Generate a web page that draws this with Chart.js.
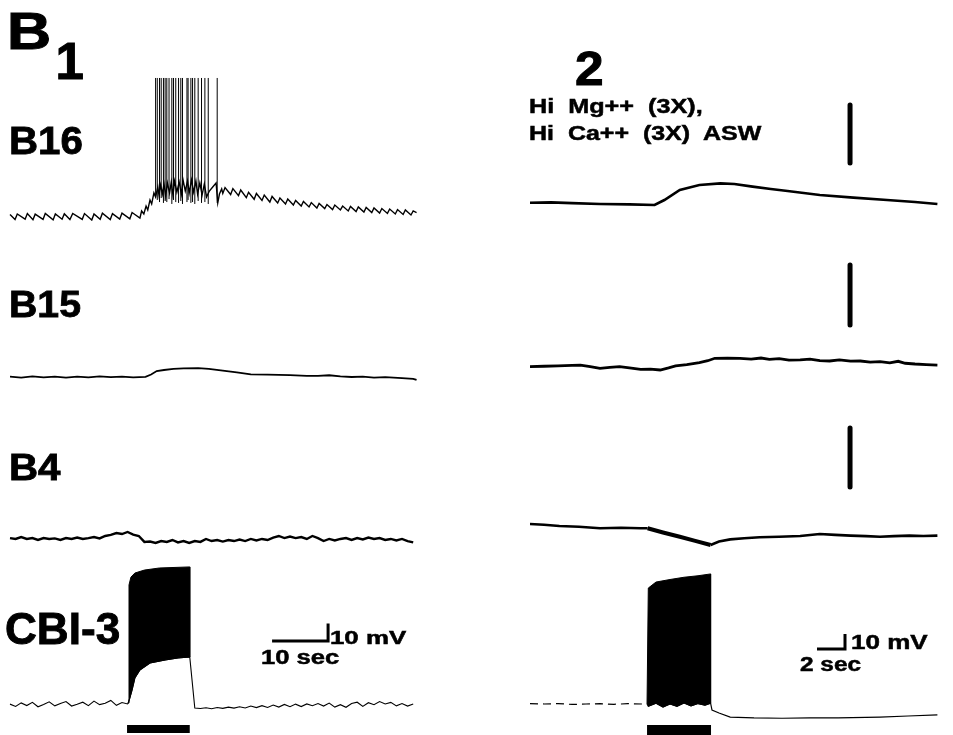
<!DOCTYPE html>
<html>
<head>
<meta charset="utf-8">
<script src="https://cdn.jsdelivr.net/npm/chart.js@4.4.1/dist/chart.umd.min.js"></script>
<style>
  html, body { margin: 0; padding: 0; background: #fff; }
  #page { position: relative; width: 953px; height: 735px; overflow: hidden; }
  canvas { position: absolute; top: 0; }
  .lbl {
    position: absolute;
    font-family: "Liberation Sans", Arial, sans-serif;
    font-weight: bold;
    line-height: 1;
    white-space: pre;
    color: #000;
    transform-origin: left top;
  }
</style>
</head>
<body>
<div id="page">
  <canvas id="left-chart" width="476" height="735" style="left:0;width:476px;height:735px"></canvas>
  <canvas id="right-chart" width="477" height="735" style="left:476px;width:477px;height:735px"></canvas>
</div>
<script>
// ---- data (time in sec, membrane potential in mV relative to each trace's rest) ----

// B1, B16: background trace and the burst of spikes
const b16LeftTime = [0, 0.9, 1.3, 2.7, 3.1, 4.1, 4.5, 5.9, 6.3, 7.7, 8.1, 9.3, 9.7, 10.7, 11.2, 12.9, 13.3, 14.6, 15.0, 16.1, 16.5, 17.9, 18.3, 19.6, 20.0, 21.4, 21.8, 23.2,
  23.5, 23.9, 24.3, 24.6, 25.0, 25.3, 25.7, 26.0,
  26.4, 26.6, 26.9, 27.2, 27.5, 27.8, 28.1, 28.5, 28.8, 29.1, 29.4, 29.8, 30.2, 30.6, 30.9, 31.3, 31.7, 32.0, 32.4, 32.8, 33.2, 33.5, 33.9, 34.3, 34.7, 35.1, 35.6, 36.2, 36.8, 37.1, 37.4, 37.8,
  38.0, 38.4, 39.4, 39.8, 40.8, 41.2, 42.2, 42.6, 43.6, 44.0, 45.0, 45.4, 46.4, 46.8, 47.8, 48.2, 49.2, 49.6, 50.6, 51.0, 52.0, 52.4, 53.4, 53.8, 54.8, 55.2, 56.2, 56.6, 57.6, 58.0,
  59.0, 59.4, 60.4, 60.8, 61.8, 62.2, 63.2, 63.6, 64.6, 65.0, 66.0, 66.4, 67.4, 67.8, 68.8, 69.2, 70.2, 70.6, 71.6, 72.0, 72.6];
const b16LeftMv = [0.3, -2.6, 0.6, -2.4, 0.8, -2.7, 0.5, -2.5, 0.9, -2.8, 0.6, -2.4, 0.7, -2.6, 0.9, -2.5, 0.8, -2.9, 0.6, -2.4, 1.0, -2.6, 0.8, -2.3, 1.1, -2.2, 1.4, -1.8,
  2.3, 0.6, 5.1, 2.9, 8.6, 6.3, 12.6, 10.3,
  16.0, 11.4, 17.1, 12.0, 17.7, 10.9, 18.3, 12.6, 18.9, 11.4, 19.4, 13.1, 18.9, 12.0, 20.0, 13.7, 19.4, 12.6, 20.0, 13.1, 19.4, 12.0, 18.3, 11.4, 17.7, 10.3, 13.7, 16.0, 18.3, 6.9, 12.0, 14.9,
  12.3, 15.7, 11.7, 15.1, 11.1, 14.3, 9.9, 13.0, 9.0, 12.3, 8.3, 11.4, 7.4, 10.6, 6.9, 9.7, 6.3, 9.1, 5.7, 8.3, 5.1, 7.7, 4.6, 7.1, 4.0, 6.6, 3.7, 6.0, 3.1, 5.7,
  2.9, 5.1, 2.3, 4.9, 2.0, 4.6, 1.7, 4.3, 1.4, 4.0, 1.1, 3.7, 0.9, 3.4, 0.6, 3.1, 0.3, 2.9, 0.0, 2.3, 1.4];
const b16SpikeTime = [26.0, 26.3, 26.7, 27.0, 27.4, 27.7, 28.0, 28.4, 28.9, 29.2, 29.6, 30.1, 30.5, 30.8, 31.6, 31.8, 32.3, 32.6, 33.0, 33.6, 34.2, 34.8, 35.4, 37.0];
const b16SpikeBase = [10.9, 8.6, 7.4, 9.7, 6.9, 8.0, 7.4, 9.1, 6.3, 8.6, 7.4, 6.9, 8.0, 6.3, 7.4, 8.6, 6.9, 7.4, 6.3, 8.0, 6.9, 7.4, 6.3, 6.9];
const b16SpikePeak = [78.3, 78.3, 78.3, 78.3, 78.3, 78.3, 78.3, 78.3, 78.3, 78.3, 78.3, 78.3, 78.3, 78.3, 78.3, 78.3, 78.3, 78.3, 78.3, 78.3, 78.3, 78.3, 78.3, 78.3];

// B1, B15
const b15LeftTime = [0, 2, 4, 6, 8, 10, 12, 14, 16, 18, 20, 22, 24.2, 25.2, 26.2, 27.5, 29.2, 31, 33.6, 35.5, 38, 40.5, 43, 46, 50, 53, 55, 57, 59, 61, 63, 65, 67, 70, 72, 72.6];
const b15LeftMv = [0.2, -0.3, 0.3, -0.2, 0.2, -0.3, 0.2, -0.2, 0.3, -0.1, 0.2, -0.2, 0.1, 1.4, 3.4, 4.0, 4.6, 4.9, 5.1, 4.6, 3.7, 2.6, 1.5, 1.3, 1.1, 0.7, 0.6, 1.0, 0.4, 0.0, 0.2, -0.3, -0.1, -0.6, -1.1, -1.7];

// B1, B4 (one sample per second from t = 0)
const b4LeftMv = [1.1, 0.6, 1.7, 0.6, 1.1, 0.0, 1.1, 0.6, 0.9, 0.0, 1.1, 0.6, 1.4, 0.6, 1.1, 1.7, 0.9, 2.3, 2.9, 4.0, 3.4, 4.6, 3.1, 2.3,
  -1.1, -0.9, -1.7, -0.6, -1.1, 0.0, -1.4, -0.6, -1.7, -0.6, -1.1, 0.6, -0.6, 0.0, -0.9, 0.0, -0.6, 0.3, -0.6, 0.6, -0.3, 0.6, 0.0,
  1.4, 2.3, 1.1, 2.0, 1.1, 1.7, 0.6, 2.3, 1.1, -0.6, 0.6, -0.3, 0.6, 1.1, 0.0, 1.1, 0.3, 1.4, 0.6, 1.1, 0.0, 0.6, -0.3, 0.6, -0.6, -1.4];

// B1, CBI-3: baseline before (t = 0..21) and after (t = 33..72) the stimulus, one sample per second
const cbiLeftPreMv = [0.5, -0.8, 1.2, -0.3, 1.5, -1.0, 0.3, 1.8, -0.5, 0.9, 2.0, -0.6, 0.4, 1.6, -0.4, 2.2, 0.2, 1.0, 2.6, -0.2, 1.4, 0.6];
const cbiLeftPostMv = [-1.7, -2.0, -1.6, -2.1, -1.4, -1.9, -1.2, -1.8, -1.0, -1.7, -0.6, -1.5, -0.4, -1.4, 0.0, -1.2, 0.3, -1.0, 0.5, -0.9,
  0.6, -0.4, 0.8, -0.6, 1.1, -1.2, 0.2, -1.3, 0.9, 1.6, -0.8, 1.3, 0.2, 2.0, 0.6, 1.5, -0.5, 0.8, -0.6, 0.6];
// envelope of the spike train during the stimulus
const cbiLeftLowerTime = [21.1, 21.4, 21.8, 22.3, 23.2, 25.0, 27.7, 30.0, 32.1];
const cbiLeftLowerMv = [1.1, 4.0, 8.6, 15.4, 20.0, 24.0, 25.7, 26.9, 27.4];
const cbiLeftUpperTime = [21.1, 21.25, 21.6, 22.3, 24.0, 26.7, 32.1];
const cbiLeftUpperMv = [1.1, 68.6, 73.1, 75.4, 77.1, 78.3, 78.9];
const stimLeft = [20.9, 32.1];

// B2 (Hi Mg++, Hi Ca++ ASW)
const b16RightTime = [0, 1.5, 3, 5, 7.1, 8.9, 9.6, 10.7, 12.1, 13.6, 14.6, 15.9, 17.2, 18.4, 20.7, 23.1, 25.5, 27.5, 29.1];
const b16RightMv = [0.2, 0.4, -0.1, -0.7, -0.9, -1.3, 2.0, 8.7, 12.0, 13.1, 12.7, 10.9, 9.3, 8.0, 5.3, 3.6, 2.0, 0.7, -0.7];

const b15RightTime = [0, 1, 2, 3, 3.6, 4.3, 5, 5.7, 6.4, 7.1, 7.9, 8.6, 9.3, 9.9, 10.4, 11.2, 12.1, 12.7, 13.2, 14.1, 15.0, 15.8, 16.5, 17.1, 17.8,
  18.5, 19.3, 20.0, 20.7, 21.4, 22.1, 22.9, 23.6, 24.3, 25.0, 25.7, 26.3, 26.8, 27.5, 28.3, 29.1];
const b15RightMv = [0.2, 0.5, 0.7, 1.1, 1.3, 0.2, -0.9, -0.2, 0.2, -0.6, -1.6, -1.4, -2.0, -0.6, 0.7, 1.6, 2.9, 4.2, 5.8, 5.9, 5.8, 5.2, 6.0, 5.1, 5.6,
  4.6, 4.7, 5.3, 4.2, 4.0, 4.8, 3.9, 4.0, 3.3, 3.6, 2.7, 3.8, 2.5, 2.0, 1.6, 1.3];

const b4RightTime = [0, 1, 2.1, 3.5, 5, 6.5, 7.9, 8.4, 9.5, 10.7, 11.8, 12.9, 13.5, 14.3, 15.3, 16.4, 17.8, 19.3, 20.7, 21.8, 22.9, 24, 25, 26, 27.1, 28.1, 29.1];
const b4RightMv = [2.7, 2.2, 1.3, 0.8, -0.2, 0.2, -0.2, -0.2, -3.0, -5.8, -8.6, -11.3, -9.0, -7.6, -6.8, -6.2, -5.8, -5.3, -4.0, -4.6, -5.1, -5.4, -5.8, -5.4, -5.1, -5.3, -5.1];

const cbiRightPreTime = [0, 1, 2, 3, 4, 5, 6, 7, 8, 8.36];
const cbiRightPreMv = [0.3, 0.0, 0.3, -0.3, 0.0, 0.2, -0.2, 0.2, 0.0, 0.0];
const cbiRightLowerTime = [8.45, 9.0, 9.5, 10.0, 10.5, 11.0, 11.5, 12.0, 12.5, 12.9];
const cbiRightLowerMv = [-1.5, 0.5, -2.0, 0.0, -1.5, 0.7, -1.3, 0.3, -0.8, 0.5];
const cbiRightUpperTime = [8.36, 8.45, 9.0, 10.0, 11.0, 12.0, 12.9];
const cbiRightUpperMv = [0.0, 77.3, 81.3, 83.0, 84.5, 85.5, 86.7];
const cbiRightPostTime = [13.0, 13.5, 14.3, 16.0, 18.0, 20.0, 22.0, 25.0, 27.0, 29.1];
const cbiRightPostMv = [-4.0, -6.0, -8.7, -9.3, -9.5, -9.3, -9.3, -8.7, -8.0, -7.3];
const stimRight = [8.36, 12.93];

// vertical marks drawn over the B16, B15 and B4 rows of panel 2
const markRightTime = 22.86;
const markRightLowMv = [26.7, 28.0, 27.3];
const markRightHighMv = [65.3, 68.0, 66.7];

// ---- layout ----
const H = 735;
const left = { t0px: 10, pxPerSec: 5.6, pxPerMv: 1.75, baselines: [215, 377, 540, 705], width: 476, stimMv: -13.7, stimWidth: 8, bar: { t: 46.8, mv: 36.6, dt: 10, dmv: 10 } };
const right = { t0px: 54, pxPerSec: 14, pxPerMv: 1.5, baselines: [203, 367, 528, 704], width: 477, stimMv: -17.3, stimWidth: 10, bar: { t: 20.5, mv: 36.7, dt: 2, dmv: 10 } };

const labels = [
  { text: 'B', x: 10, cap: 13, size: 51, sx: 1.2, stroke: 1 },
  { text: '1', x: 58, cap: 43, size: 51, sx: 1.0, stroke: 1 },
  { text: '2', x: 577, cap: 50, size: 49, sx: 1.05, stroke: 1 },
  { text: 'B16', x: 11, cap: 127, size: 38, sx: 1.06, stroke: 0.8 },
  { text: 'B15', x: 11, cap: 291, size: 37, sx: 1.06, stroke: 0.8 },
  { text: 'B4', x: 11, cap: 455, size: 36, sx: 1.12, stroke: 0.8 },
  { text: 'CBI-3', x: 7, cap: 612, size: 45, sx: 0.98, stroke: 0.9 },
  { text: 'Hi  Mg++  (3X),', x: 530, cap: 98, size: 21, sx: 1.2, stroke: 0.5 },
  { text: 'Hi  Ca++  (3X)  ASW', x: 530, cap: 125, size: 21, sx: 1.19, stroke: 0.5 },
  { text: '10 mV', x: 331, cap: 630, size: 19, sx: 1.36, stroke: 0.5 },
  { text: '10 sec', x: 262, cap: 650, size: 20, sx: 1.28, stroke: 0.5 },
  { text: '10 mV', x: 852, cap: 635, size: 20, sx: 1.3, stroke: 0.5 },
  { text: '2 sec', x: 801, cap: 657, size: 20, sx: 1.22, stroke: 0.5 }
];

const page = document.getElementById('page');
labels.forEach(l => {
  const el = document.createElement('div');
  el.className = 'lbl';
  el.textContent = l.text;
  el.style.fontSize = l.size + 'px';
  el.style.left = (l.x - 0.05 * l.size) + 'px';
  el.style.top = (l.cap - 0.13 * l.size) + 'px';
  el.style.transform = 'scaleX(' + l.sx + ')';
  el.style.webkitTextStroke = l.stroke + 'px #000';
  page.appendChild(el);
});

// ---- helpers ----
const pts = (times, values) => times.map((t, i) => ({ x: t, y: values[i] }));
const stepPts = (start, values) => values.map((v, i) => ({ x: start + i, y: v }));

const line = (data, yAxisID, width, extra) => Object.assign({
  data: data,
  yAxisID: yAxisID,
  borderColor: '#000',
  backgroundColor: '#000',
  borderWidth: width,
  pointRadius: 0,
  tension: 0,
  fill: false,
  spanGaps: false
}, extra || {});

function makeScales(col) {
  const scales = {
    x: { type: 'linear', display: false, min: -col.t0px / col.pxPerSec, max: (col.width - col.t0px) / col.pxPerSec }
  };
  col.baselines.forEach((b, i) => {
    scales['y' + i] = { type: 'linear', display: false, min: -(H - b) / col.pxPerMv, max: b / col.pxPerMv };
  });
  return scales;
}

const baseOptions = col => ({
  responsive: false,
  animation: false,
  devicePixelRatio: 1,
  events: [],
  layout: { padding: 0 },
  plugins: { legend: { display: false }, tooltip: { enabled: false } },
  scales: makeScales(col)
});

const scaleBar = (b, yAxisID) => line([
  { x: b.t, y: b.mv }, { x: b.t + b.dt, y: b.mv }, { x: b.t + b.dt, y: b.mv + b.dmv }
], yAxisID, 3, { borderJoinStyle: 'miter' });

// ---- panel 1 ----
const spikes = [];
b16SpikeTime.forEach((t, i) => {
  spikes.push({ x: t, y: b16SpikeBase[i] }, { x: t, y: b16SpikePeak[i] }, { x: t, y: null });
});

const cbiLeftTrace = stepPts(0, cbiLeftPreMv)
  .concat(pts(cbiLeftLowerTime, cbiLeftLowerMv))
  .concat(stepPts(33, cbiLeftPostMv));
const cbiLeftBlock = pts(cbiLeftUpperTime, cbiLeftUpperMv)
  .concat(pts(cbiLeftLowerTime, cbiLeftLowerMv).reverse());

new Chart(document.getElementById('left-chart'), {
  type: 'line',
  data: {
    datasets: [
      line(pts(b16LeftTime, b16LeftMv), 'y0', 1.4),
      line(spikes, 'y0', 1),
      line(pts(b15LeftTime, b15LeftMv), 'y1', 1.8),
      line(stepPts(0, b4LeftMv), 'y2', 2.4),
      line(cbiLeftTrace, 'y3', 1.1),
      line(cbiLeftBlock, 'y3', 1, { fill: 'shape' }),
      line([{ x: stimLeft[0], y: left.stimMv }, { x: stimLeft[1], y: left.stimMv }], 'y3', left.stimWidth, { borderCapStyle: 'butt' }),
      scaleBar(left.bar, 'y3')
    ]
  },
  options: baseOptions(left)
});

// ---- panel 2 ----
const cbiRightTrace = pts(cbiRightPreTime, cbiRightPreMv)
  .concat(pts(cbiRightLowerTime, cbiRightLowerMv))
  .concat(pts(cbiRightPostTime, cbiRightPostMv));
const cbiRightBlock = pts(cbiRightUpperTime, cbiRightUpperMv)
  .concat(pts(cbiRightLowerTime, cbiRightLowerMv).reverse());

const marks = markRightLowMv.map((lo, i) => line([
  { x: markRightTime, y: lo }, { x: markRightTime, y: markRightHighMv[i] }
], 'y' + i, 5, { borderCapStyle: 'round' }));

new Chart(document.getElementById('right-chart'), {
  type: 'line',
  data: {
    datasets: [
      line(pts(b16RightTime, b16RightMv), 'y0', 2.6),
      line(pts(b15RightTime, b15RightMv), 'y1', 2.8),
      line(pts(b4RightTime, b4RightMv), 'y2', 2.6, {
        segment: {
          borderWidth: ctx => (ctx.p0.parsed.x >= stimRight[0] && ctx.p1.parsed.x <= stimRight[1]) ? 4 : undefined
        }
      }),
      line(cbiRightTrace, 'y3', 1.2, {
        segment: {
          borderDash: ctx => ctx.p1.parsed.x <= stimRight[0] ? [8, 5] : undefined
        }
      }),
      line(cbiRightBlock, 'y3', 1, { fill: 'shape' }),
      line([{ x: stimRight[0], y: right.stimMv }, { x: stimRight[1], y: right.stimMv }], 'y3', right.stimWidth, { borderCapStyle: 'butt' }),
      scaleBar(right.bar, 'y3')
    ].concat(marks)
  },
  options: baseOptions(right)
});
</script>
</body>
</html>
